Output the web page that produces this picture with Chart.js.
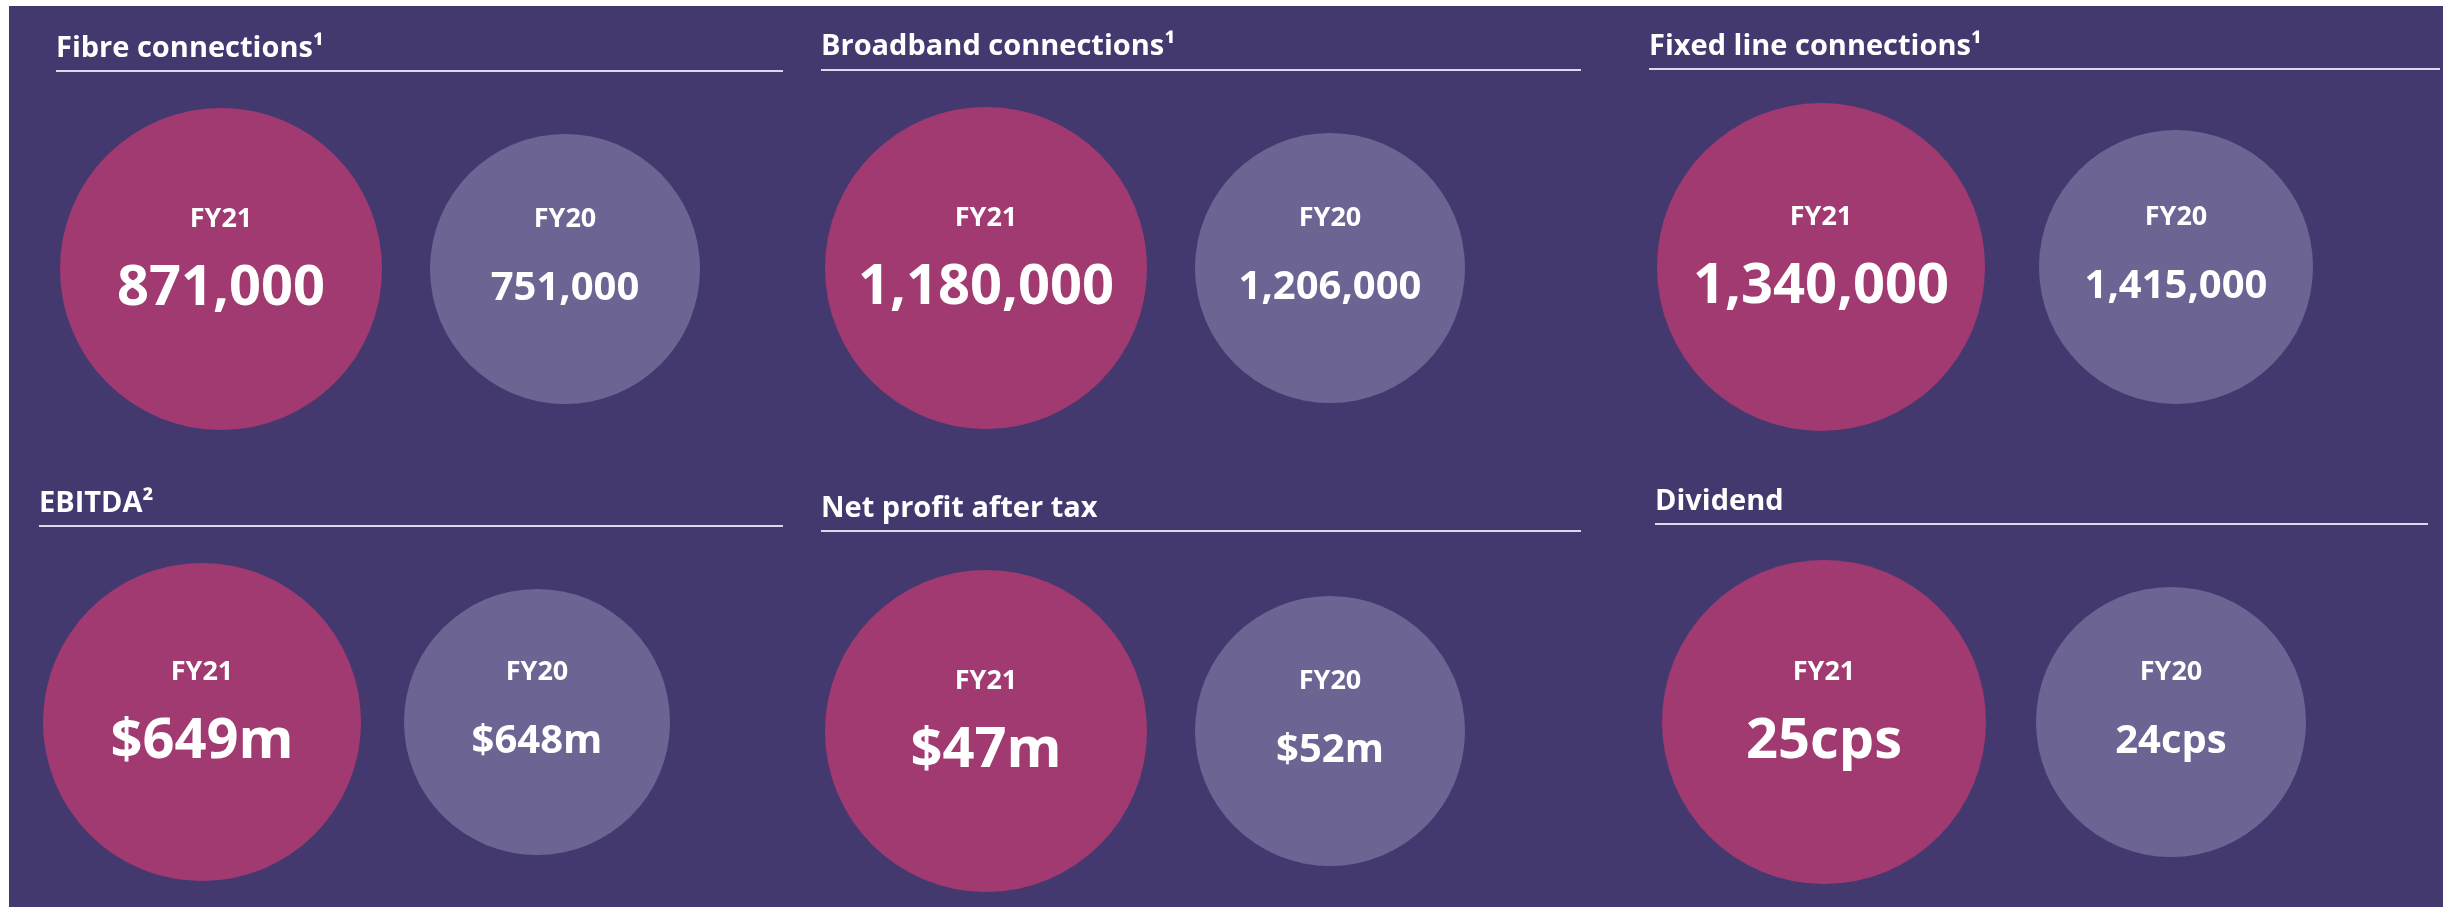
<!DOCTYPE html>
<html>
<head>
<meta charset="utf-8">
<script src="https://cdn.jsdelivr.net/npm/chart.js@4.4.1/dist/chart.umd.min.js"></script>
<style>
  html, body { margin: 0; padding: 0; background: #ffffff; width: 2450px; height: 911px; overflow: hidden; }
  #bg { position: absolute; left: 9px; top: 6px; width: 2434px; height: 901px; background: #44396f; }
  canvas { position: absolute; }
</style>
</head>
<body>
<div id="bg"></div>
<script>
// ---- data ----
const metrics = ['Fibre connections¹', 'Broadband connections¹', 'Fixed line connections¹', 'EBITDA²', 'Net profit after tax', 'Dividend'];
const periods = ['FY21', 'FY20'];
const fy21Values = [871000, 1180000, 1340000, 649, 47, 25];
const fy20Values = [751000, 1206000, 1415000, 648, 52, 24];
const valuePrefix = ['', '', '', '$', '$', ''];
const valueSuffix = ['', '', '', 'm', 'm', 'cps'];

// ---- layout / style (pixels) ----
const panels = [
  { x0: 0,    x1: 800,  y0: 0,   y1: 455, tx: 56,   tb: 57,  ly: 71,  lx1: 783,  c21: 221,  c20: 565,  cy: 269, r21: 161, r20: 135 },
  { x0: 800,  x1: 1610, y0: 0,   y1: 455, tx: 821,  tb: 55,  ly: 70,  lx1: 1581, c21: 986,  c20: 1330, cy: 268, r21: 161, r20: 135 },
  { x0: 1610, x1: 2450, y0: 0,   y1: 455, tx: 1649, tb: 55,  ly: 69,  lx1: 2440, c21: 1821, c20: 2176, cy: 267, r21: 164, r20: 137 },
  { x0: 0,    x1: 800,  y0: 455, y1: 911, tx: 39,   tb: 512, ly: 526, lx1: 783,  c21: 202,  c20: 537,  cy: 722, r21: 159, r20: 133 },
  { x0: 800,  x1: 1610, y0: 455, y1: 911, tx: 821,  tb: 517, ly: 531, lx1: 1581, c21: 986,  c20: 1330, cy: 731, r21: 161, r20: 135 },
  { x0: 1610, x1: 2450, y0: 455, y1: 911, tx: 1655, tb: 510, ly: 524, lx1: 2428, c21: 1824, c20: 2171, cy: 722, r21: 162, r20: 135 }
];
const COLORS = { fy21: '#a23a72', fy20: '#6c6594', line: '#ddd8ea', text: '#ffffff' };
const FONT = '"Open Sans", "DejaVu Sans", sans-serif';

function fmt(i, v) {
  return valuePrefix[i] + v.toLocaleString('en-US') + valueSuffix[i];
}

const labelPlugin = {
  id: 'bubbleLabels',
  afterDraw(chart) {
    const p = chart.options.plugins.bubbleLabels;
    const i = p.index;
    const L = panels[i];
    const ctx = chart.ctx;
    ctx.save();
    // Panel title
    ctx.fillStyle = COLORS.text;
    ctx.textAlign = 'left';
    ctx.textBaseline = 'alphabetic';
    ctx.font = '700 29px ' + FONT;
    ctx.fillText(metrics[i], L.tx - L.x0, L.tb - L.y0);
    // Underline rule
    ctx.fillStyle = COLORS.line;
    ctx.fillRect(L.tx - L.x0, L.ly - L.y0 - 1, L.lx1 - L.tx, 2);
    // Bubble labels
    ctx.fillStyle = COLORS.text;
    ctx.textAlign = 'center';
    const vals = [fy21Values[i], fy20Values[i]];
    const valueFont = [56, 40];
    chart.data.datasets.forEach((ds, di) => {
      const el = chart.getDatasetMeta(di).data[0];
      if (!el) return;
      ctx.font = '700 27px ' + FONT;
      ctx.fillText(periods[di], el.x, el.y - 42);
      ctx.font = '700 ' + valueFont[di] + 'px ' + FONT;
      ctx.fillText(fmt(i, vals[di]), el.x, el.y + (di === 0 ? 36 : 31));
    });
    ctx.restore();
  }
};

function build() {
  metrics.forEach((m, i) => {
    const L = panels[i];
    const cv = document.createElement('canvas');
    cv.width = L.x1 - L.x0;
    cv.height = L.y1 - L.y0;
    cv.style.left = L.x0 + 'px';
    cv.style.top = L.y0 + 'px';
    cv.style.width = cv.width + 'px';
    cv.style.height = cv.height + 'px';
    document.body.appendChild(cv);

    new Chart(cv, {
      type: 'bubble',
      data: {
        datasets: [
          { label: periods[0], data: [{ x: periods[0], y: m }], backgroundColor: COLORS.fy21, borderWidth: 0, radius: L.r21, hoverRadius: 0, clip: false },
          { label: periods[1], data: [{ x: periods[1], y: m }], backgroundColor: COLORS.fy20, borderWidth: 0, radius: L.r20, hoverRadius: 0, clip: false }
        ]
      },
      options: {
        responsive: false,
        animation: false,
        events: [],
        layout: {
          padding: {
            left: L.c21 - L.x0,
            right: L.x1 - L.c20,
            top: L.cy - L.y0 - 5,
            bottom: L.y1 - L.cy - 5
          }
        },
        scales: {
          x: { type: 'category', labels: periods, offset: false, display: false },
          y: { type: 'category', labels: [m], offset: true, display: false }
        },
        plugins: {
          legend: { display: false },
          tooltip: { enabled: false },
          bubbleLabels: { index: i }
        }
      },
      plugins: [labelPlugin]
    });
  });
}

if (document.fonts && document.fonts.load) {
  Promise.all([
    document.fonts.load('700 29px "Open Sans"'),
    document.fonts.load('700 56px "Open Sans"')
  ]).then(build, build);
} else {
  build();
}
</script>
</body>
</html>
